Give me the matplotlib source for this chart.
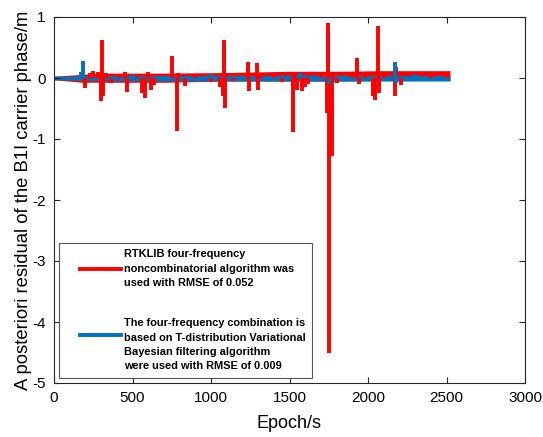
import numpy as np
import matplotlib.pyplot as plt
from matplotlib.legend_handler import HandlerLine2D

plt.rcParams['font.family'] = ['Liberation Sans', 'DejaVu Sans']
plt.rcParams['axes.unicode_minus'] = False

# envelope of the dense noise band (epoch, upper, lower)
red_band_epoch = [0, 180, 300, 700, 1100, 1500, 1800, 2100, 2522]
red_band_hi = [0.03, 0.06, 0.08, 0.08, 0.09, 0.11, 0.11, 0.12, 0.12]
red_band_lo = [-0.03, -0.07, -0.07, -0.07, -0.05, -0.05, -0.05, -0.04, -0.04]

blue_band_epoch = [0, 180, 600, 1200, 1600, 2000, 2522]
blue_band_hi = [0.03, 0.035, 0.04, 0.04, 0.05, 0.04, 0.04]
blue_band_lo = [-0.03, -0.04, -0.05, -0.05, -0.05, -0.05, -0.05]

# spikes (epoch, residual)
red_spike_epoch = [200, 230, 250, 280, 300, 304, 310, 330, 360, 420, 450, 465, 520,
                   560, 580, 600, 620, 640, 750, 781, 790, 835, 900, 1000, 1060,
                   1075, 1085, 1090, 1140, 1235, 1240, 1290, 1300, 1320, 1400, 1450,
                   1522, 1530, 1550, 1580, 1600, 1620, 1700, 1740, 1748, 1752, 1760,
                   1770, 1780, 1800, 1900, 1930, 1940, 1980, 2030, 2045, 2064, 2070,
                   2100, 2172, 2180, 2210, 2300, 2400, 2500]
red_spike_val = [-0.17, 0.08, 0.12, 0.1, -0.38, 0.62, -0.3, 0.08, -0.08, 0.05, 0.1, -0.23, 0.05,
                 -0.25, -0.32, 0.1, -0.2, -0.12, 0.36, -0.87, 0.08, -0.13, 0.04, -0.06, -0.15,
                 -0.3, 0.62, -0.49, -0.05, 0.27, -0.22, 0.24, -0.2, 0.08, 0.05, -0.06,
                 -0.88, 0.1, -0.2, -0.22, -0.15, -0.1, 0.1, -0.57, 0.9, -4.5, -0.9,
                 -1.28, 0.05, -0.08, 0.1, 0.33, -0.1, 0.1, -0.3, -0.36, 0.85, -0.25,
                 0.05, -0.3, 0.18, -0.12, 0.08, 0.1, 0.1]

blue_spike_epoch = [170, 185, 500, 1000, 1570, 1752, 2172, 2180, 2300]
blue_spike_val = [0.1, 0.28, 0.06, 0.06, 0.09, -0.1, 0.26, -0.08, 0.06]

red = (1, 0, 0)
blue = (0, 0.447, 0.741)


class PadLine(HandlerLine2D):
    # legend sample line with extra space on its left, optionally raised
    def __init__(self, lift=0.0, **kw):
        super().__init__(**kw)
        self.lift = lift

    def create_artists(self, legend, orig, xdescent, ydescent, width, height, fontsize, trans):
        arts = super().create_artists(legend, orig, xdescent, ydescent, width, height,
                                      fontsize, trans)
        x0 = -xdescent + 0.26 * width
        x1 = -xdescent + width
        y = (height - ydescent) / 2 + self.lift * fontsize
        for a in arts:
            a.set_xdata([x0, x1])
            a.set_ydata([y, y])
        return arts


fig = plt.figure(figsize=(5.43, 4.37), dpi=100)
ax = fig.add_axes([54 / 543, 54 / 437, 471 / 543, 366 / 437])

ax.fill_between(red_band_epoch, red_band_lo, red_band_hi, color=red, lw=0)
ax.vlines(red_spike_epoch, 0, red_spike_val, color=red, lw=2.8)
ax.fill_between(blue_band_epoch, blue_band_lo, blue_band_hi, color=blue, lw=0)
ax.vlines(blue_spike_epoch, 0, blue_spike_val, color=blue, lw=2.8)

h1, = ax.plot([], [], color=red, lw=2.8)
h2, = ax.plot([], [], color=blue, lw=2.8)
lab1 = 'RTKLIB four-frequency\nnoncombinatorial algorithm was\nused with RMSE of 0.052'
lab2 = ('The four-frequency combination is\nbased on T-distribution Variational\n'
        'Bayesian filtering algorithm\nwere used with RMSE of 0.009')
leg = ax.legend([h1, h2], [lab1, lab2], loc='lower left', bbox_to_anchor=(0.0, 0.0),
                prop={'weight': 'bold', 'size': 7.9}, fancybox=False, edgecolor='#555555',
                handlelength=5.1, handletextpad=0.25, labelspacing=2.75, borderpad=0.55,
                borderaxespad=0.5, framealpha=1,
                handler_map={h1: PadLine(), h2: PadLine(lift=0.95)})
leg.get_frame().set_linewidth(0.8)
for t in leg.get_texts():
    t.set_linespacing(1.55)

ax.set_xlim(0, 3000)
ax.set_ylim(-5, 1)
ax.set_xticks(np.arange(0, 3001, 500))
ax.set_yticks(np.arange(-5, 2, 1))
ax.tick_params(direction='in', top=True, right=True, labelsize=11, length=4,
               color='#262626', pad=6)
for s in ax.spines.values():
    s.set_color('#262626')
    s.set_linewidth(0.8)
ax.set_xlabel('Epoch/s', fontsize=13, labelpad=7)
ax.set_ylabel('A posteriori residual of the B1I carrier phase/m', fontsize=13.3, labelpad=0)

fig.savefig('out.png', dpi=100)
